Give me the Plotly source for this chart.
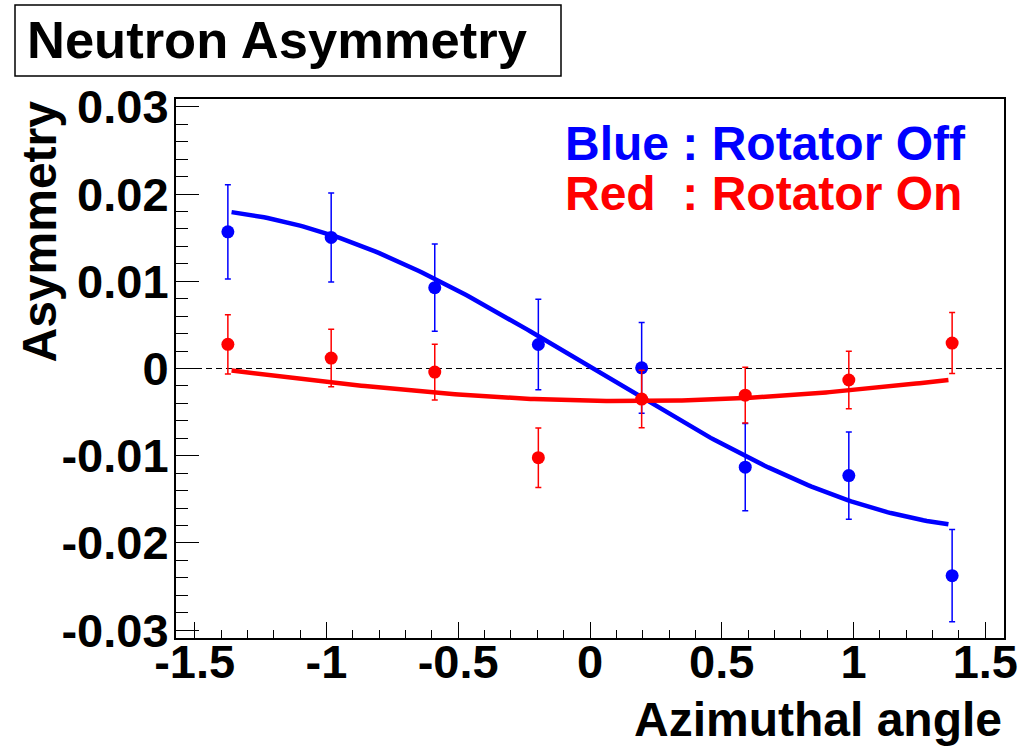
import numpy as np
import plotly.graph_objects as go

# Azimuthal bin centres (8 bins over [-pi/2, pi/2])
phi = [-1.374, -0.982, -0.589, -0.196, 0.196, 0.589, 0.982, 1.374]

# Rotator off (blue)
asym_off = [0.01567, 0.01503, 0.00927, 0.00275, 0.00008, -0.01131, -0.01228, -0.02375]
err_off = [0.0054, 0.0051, 0.0050, 0.0052, 0.0052, 0.0050, 0.0050, 0.0053]

# Rotator on (red)
asym_on = [0.00277, 0.00120, -0.00041, -0.01023, -0.00350, -0.00306, -0.00132, 0.00292]
err_on = [0.0034, 0.0033, 0.0032, 0.0034, 0.0033, 0.0032, 0.0033, 0.0035]

# Fit results: A(phi) = p_sin * sin(phi) + p_cos * cos(phi)
fit_off = {"p_sin": -0.0183, "p_cos": 0.00015}
fit_on = {"p_sin": -0.00055, "p_cos": -0.0037}
fit_range = (-1.36, 1.36)

x_ticks = [-1.5, -1, -0.5, 0, 0.5, 1, 1.5]
x_ticktext = ["-1.5", "-1", "-0.5", "0", "0.5", "1", "1.5"]
y_ticks = [-0.03, -0.02, -0.01, 0, 0.01, 0.02, 0.03]
y_ticktext = ["-0.03", "-0.02", "-0.01", "0", "0.01", "0.02", "0.03"]

BLUE = "rgb(0,0,255)"
RED = "rgb(255,0,0)"
FONT = "Liberation Sans, Arial, Helvetica, sans-serif"

# Page geometry (pixels)
W, H = 1034, 747
ML, MR, MT, MB = 176, 30, 99, 109
PW, PH = W - ML - MR, H - MT - MB


def px(xp):
    return (xp - ML) / PW


def py(yp):
    return (H - MB - yp) / PH


def fit_curve(p):
    xs = np.linspace(fit_range[0], fit_range[1], 200)
    return xs, p["p_sin"] * np.sin(xs) + p["p_cos"] * np.cos(xs)


fig = go.Figure()

fig.add_trace(go.Scatter(
    x=phi, y=asym_off, mode="markers",
    marker=dict(color=BLUE, size=13),
    error_y=dict(type="data", array=err_off, color=BLUE, thickness=1.5, width=3),
    showlegend=False,
))
xs, ys = fit_curve(fit_off)
fig.add_trace(go.Scatter(x=xs, y=ys, mode="lines", line=dict(color=BLUE, width=4.5),
                         showlegend=False))

fig.add_trace(go.Scatter(
    x=phi, y=asym_on, mode="markers",
    marker=dict(color=RED, size=13),
    error_y=dict(type="data", array=err_on, color=RED, thickness=1.5, width=3),
    showlegend=False,
))
xs, ys = fit_curve(fit_on)
fig.add_trace(go.Scatter(x=xs, y=ys, mode="lines", line=dict(color=RED, width=4.5),
                         showlegend=False))

# zero reference line
fig.add_shape(type="line", xref="paper", x0=0, x1=1, yref="y", y0=0, y1=0,
              line=dict(color="black", width=1, dash="6px,4px"), layer="below")

# title box
fig.add_shape(type="rect", xref="paper", yref="paper",
              x0=px(15), x1=px(561), y0=py(76), y1=py(5),
              line=dict(color="black", width=1.5), fillcolor="white")

annots = [
    dict(text="Neutron Asymmetry", x=px(25), y=py(40), xanchor="left", yanchor="middle",
         font=dict(size=52.5, color="black", family=FONT, weight="bold")),
    dict(text="Blue : Rotator Off", x=px(563), y=py(143), xanchor="left", yanchor="middle",
         font=dict(size=48, color=BLUE, family=FONT, weight="bold")),
    dict(text="Red\u00a0 : Rotator On", x=px(563), y=py(193.5), xanchor="left", yanchor="middle",
         font=dict(size=48, color=RED, family=FONT, weight="bold")),
    dict(text="Azimuthal angle", x=px(1004), y=py(719), xanchor="right", yanchor="middle",
         font=dict(size=48, color="black", family=FONT, weight="bold")),
    dict(text="Asymmetry", x=px(38.5), y=py(99), xanchor="center", yanchor="top",
         textangle=-90,
         font=dict(size=48, color="black", family=FONT, weight="bold")),
]
for a in annots:
    fig.add_annotation(xref="paper", yref="paper", showarrow=False, **a)

tickfont = dict(size=47, color="black", family=FONT, weight="bold")

fig.update_xaxes(
    range=[-np.pi / 2, np.pi / 2], tickvals=x_ticks, ticktext=x_ticktext,
    ticks="inside", ticklen=16, tickwidth=1, tickcolor="black",
    minor=dict(dtick=0.1, tick0=0, ticks="inside", ticklen=8, tickwidth=1, tickcolor="black"),
    showline=True, linecolor="black", linewidth=2, mirror=True,
    showgrid=False, zeroline=False, tickfont=tickfont, ticklabelstandoff=-18,
)
fig.update_yaxes(
    range=[-0.0309, 0.0309], tickvals=y_ticks, ticktext=y_ticktext,
    ticks="inside", ticklen=23, tickwidth=1, tickcolor="black",
    minor=dict(dtick=0.002, tick0=0, ticks="inside", ticklen=12, tickwidth=1, tickcolor="black"),
    showline=True, linecolor="black", linewidth=2, mirror=True,
    showgrid=False, zeroline=False, tickfont=tickfont, ticklabelstandoff=-4,
)

fig.update_layout(
    width=W, height=H,
    margin=dict(l=ML, r=MR, t=MT, b=MB, pad=0),
    paper_bgcolor="white", plot_bgcolor="white",
    showlegend=False,
)

fig.write_html("out.html")
